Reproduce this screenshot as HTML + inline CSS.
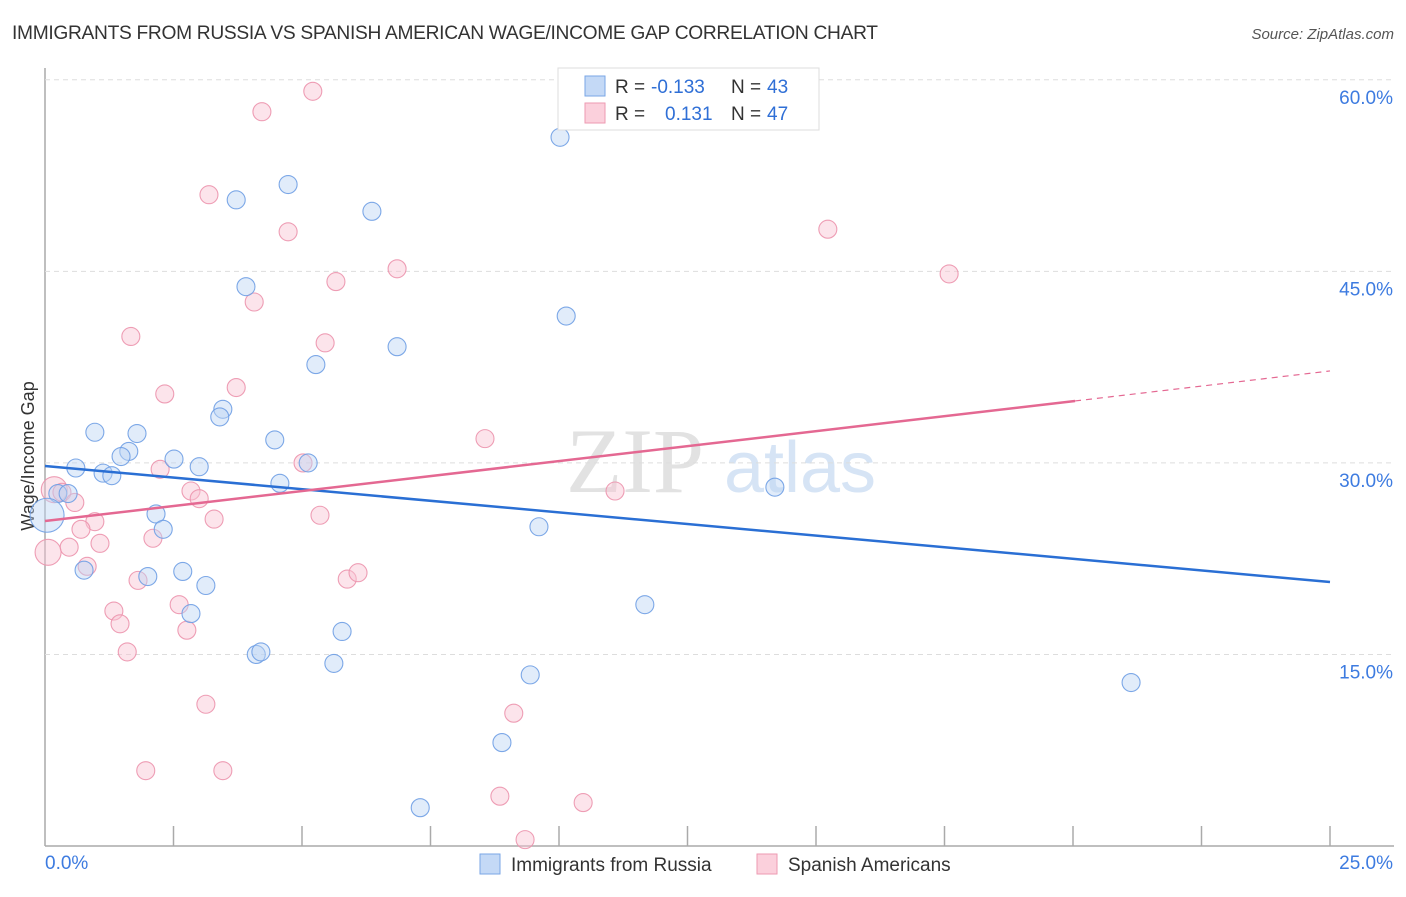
<!DOCTYPE html>
<html><head><meta charset="utf-8"><style>
body{margin:0;background:#fff;font-family:"Liberation Sans",sans-serif}
</style></head><body>
<svg id="c" width="1406" height="892" xmlns="http://www.w3.org/2000/svg">
<text x="12" y="39" font-size="19.2" fill="#333" textLength="866">IMMIGRANTS FROM RUSSIA VS SPANISH AMERICAN WAGE/INCOME GAP CORRELATION CHART</text>
<text x="1394" y="39" font-size="15" fill="#555" font-style="italic" text-anchor="end">Source: ZipAtlas.com</text>
<text x="635" y="492" font-size="92" fill="#e2e2e2" font-family="Liberation Serif,serif" text-anchor="middle">ZIP</text>
<text x="800" y="492" font-size="72" fill="#d6e4f5" text-anchor="middle">atlas</text>
<text transform="translate(34,456) rotate(-90)" font-size="18" fill="#333" text-anchor="middle">Wage/Income Gap</text>
<g id="grid"></g><g id="pts"></g><g id="lines"></g>
<g>
<rect x="558" y="68" width="261" height="62" fill="#fff" stroke="#ddd"/>
<rect x="585" y="76" width="20" height="20" fill="#c4d9f6" stroke="#7aa6e6"/>
<rect x="585" y="103" width="20" height="20" fill="#fbd0dc" stroke="#ee9ab2"/>
<text y="93" font-size="19" fill="#333"><tspan x="615">R =</tspan><tspan x="651" fill="#2f6fd6">-0.133</tspan><tspan x="731">N =</tspan><tspan x="767" fill="#2f6fd6">43</tspan></text>
<text y="120" font-size="19" fill="#333"><tspan x="615">R =</tspan><tspan x="665" fill="#2f6fd6">0.131</tspan><tspan x="731">N =</tspan><tspan x="767" fill="#2f6fd6">47</tspan></text>
</g>
<g>
<rect x="480" y="854" width="20" height="20" fill="#c4d9f6" stroke="#7aa6e6"/>
<text x="511" y="871" font-size="19" fill="#333">Immigrants from Russia</text>
<rect x="757" y="854" width="20" height="20" fill="#fbd0dc" stroke="#ee9ab2"/>
<text x="788" y="871" font-size="19" fill="#333">Spanish Americans</text>
</g>
</svg>
<script>
const yTicks=[15,30,45,60];
const yTickLabels=["15.0%","30.0%","45.0%","60.0%"];
const xTickCount=10;
const russiaX=[10.02,4.73,3.72,6.36,3.91,10.14,6.85,5.27,3.46,3.40,0.97,1.79,1.63,1.48,2.51,0.60,3.00,5.12,4.47,1.13,1.30,4.57,14.2,0.25,0.45,0.04,2.16,2.30,9.61,0.76,2.00,2.68,3.13,2.84,11.67,5.78,4.11,4.20,5.62,9.44,21.13,8.89,7.30];
const russiaY=[55.5,51.8,50.6,49.7,43.8,41.5,39.1,37.7,34.2,33.6,32.4,32.3,30.9,30.5,30.3,29.6,29.7,30.0,31.8,29.2,29.0,28.4,28.1,27.6,27.6,25.9,26.0,24.8,25.0,21.6,21.1,21.5,20.4,18.2,18.9,16.8,15.0,15.2,14.3,13.4,12.8,8.1,3.0];
const russiaBig=[0,0,0,0,0,0,0,0,0,0,0,0,0,0,0,0,0,0,0,0,0,0,0,0,0,1,0,0,0,0,0,0,0,0,0,0,0,0,0,0,0,0,0];
const spanishX=[5.21,4.22,3.19,4.73,15.23,6.85,5.66,17.59,4.07,1.67,5.45,3.72,2.33,8.56,5.02,2.24,0.18,0.33,0.58,2.84,3.00,11.09,0.97,3.29,5.35,0.70,2.10,0.47,1.07,0.06,0.82,1.81,5.88,6.09,2.61,1.34,1.46,2.76,1.60,3.13,9.12,1.96,3.46,8.85,10.47,9.34];
const spanishY=[59.1,57.5,51.0,48.1,48.3,45.2,44.2,44.8,42.6,39.9,39.4,35.9,35.4,31.9,29.997,29.5,27.9,27.7,26.9,27.8,27.2,27.8,25.4,25.6,25.9,24.8,24.1,23.4,23.7,23.0,21.9,20.8,20.9,21.4,18.9,18.4,17.4,16.9,15.2,11.1,10.4,5.9,5.9,3.9,3.4,0.5];
const spanishBig=[0,0,0,0,0,0,0,0,0,0,0,0,0,0,0,0,1,0,0,0,0,0,0,0,0,0,0,0,0,1,0,0,0,0,0,0,0,0,0,0,0,0,0,0,0,0];
const russiaTrend=[29.76,20.67];
const spanishTrend=[25.45,34.85,37.2];
const spanishSolidEnd=20.04;
const NS="http://www.w3.org/2000/svg";
const X=v=>45+v*51.4, Y=v=>846-v*12.77;
function mk(tag,at,parent){const e=document.createElementNS(NS,tag);for(const k in at)e.setAttribute(k,at[k]);document.getElementById(parent).appendChild(e);return e;}
const a=mk('line',{x1:45,y1:68,x2:45,y2:846,stroke:'#aaa','stroke-width':1.5},'grid');


const b=mk('line',{x1:45,y1:846,x2:1394,y2:846,stroke:'#aaa','stroke-width':1.5},'grid');


yTicks.forEach((t,i)=>{
 const g=mk('line',{x1:45,y1:Y(t),x2:1394,y2:Y(t),stroke:'#ddd','stroke-dasharray':'5,4'},'grid');
 
 
 const l=mk('text',{x:1393,y:Y(t)+24,'font-size':19,fill:'#3d7be0','text-anchor':'end'},'grid');
 l.textContent=yTickLabels[i];
 
 
});
for(let i=1;i<=xTickCount;i++){
 const t=mk('line',{x1:X(i*2.5),y1:826,x2:X(i*2.5),y2:846,stroke:'#aaa','stroke-width':1.5},'grid');
 
 
}
const x0=mk('text',{x:45,y:869,'font-size':19,fill:'#3d7be0'},'grid');x0.textContent='0.0%';


const x1=mk('text',{x:1393,y:869,'font-size':19,fill:'#3d7be0','text-anchor':'end'},'grid');x1.textContent='25.0%';


function pts(xs,ys,big,fill,stroke,name,bigR){xs.forEach((v,i)=>{
 const c=mk('circle',{cx:X(v),cy:Y(ys[i]),r:big[i]?bigR:9,fill:fill,'fill-opacity':0.45,stroke:stroke,'stroke-width':1.1,'stroke-opacity':0.9},'pts');
 
 
});}
pts(spanishX,spanishY,spanishBig,'#f8c3d3','#ec93ad','spanish-point',13);
pts(russiaX,russiaY,russiaBig,'#bcd4f4','#6f9fe4','russia-point',17);
const r=mk('line',{x1:X(0),y1:Y(russiaTrend[0]),x2:X(25),y2:Y(russiaTrend[1]),stroke:'#2a6fd4','stroke-width':2.5},'lines');


const s=mk('line',{x1:X(0),y1:Y(spanishTrend[0]),x2:X(spanishSolidEnd),y2:Y(spanishTrend[1]),stroke:'#e46892','stroke-width':2.5},'lines');


const sd=mk('line',{x1:X(spanishSolidEnd),y1:Y(spanishTrend[1]),x2:X(25),y2:Y(spanishTrend[2]),stroke:'#e46892','stroke-width':1.2,'stroke-dasharray':'6,5'},'lines');


</script>
</body></html>
